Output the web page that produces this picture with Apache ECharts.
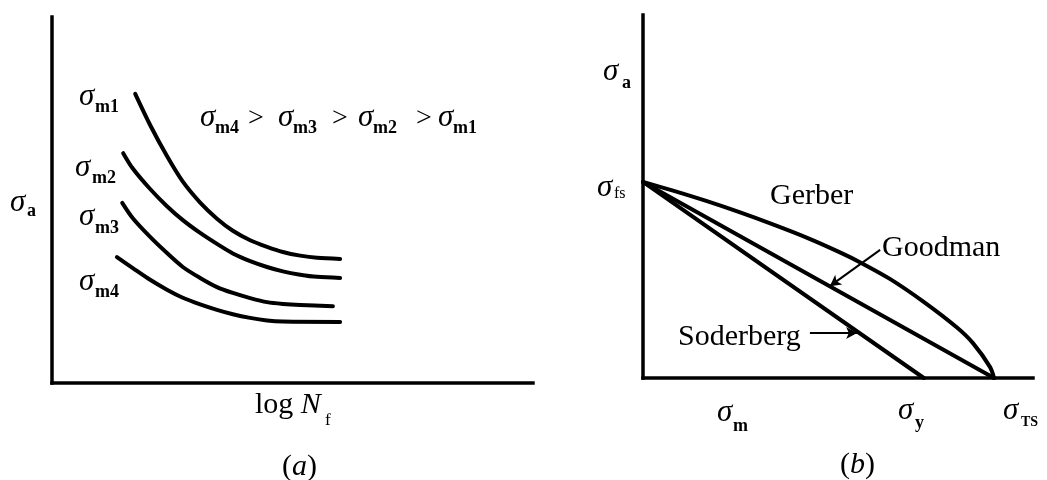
<!DOCTYPE html>
<html>
<head>
<meta charset="utf-8">
<script src="https://cdn.jsdelivr.net/npm/echarts@6/dist/echarts.min.js"></script>
<style>
  html, body { margin: 0; padding: 0; background: #fff; }
  #chart { width: 1047px; height: 480px; }
</style>
</head>
<body>
<div id="chart"></div>
<script>
// (a) S-N curves: [log Nf, sigma_a] for each mean stress level
const curveM1 = [[17.3,79.0],[20.4,70.5],[23.9,62.0],[27.2,55.0],[30.8,49.3],[34.3,44.9],[37.6,41.6],[41.2,39.0],[44.7,37.2],[48.0,35.8],[51.6,34.8],[55.1,34.2],[59.9,33.9]];
const curveM2 = [[14.8,62.8],[16.8,58.6],[20.4,53.0],[23.9,48.3],[27.2,44.5],[30.8,41.0],[34.3,38.0],[37.6,35.4],[41.2,33.3],[44.7,31.7],[48.0,30.5],[51.6,29.6],[55.1,29.0],[59.9,28.7]];
const curveM3 = [[14.6,49.2],[16.8,45.0],[20.4,39.9],[23.9,35.5],[27.2,31.7],[30.8,28.7],[34.3,26.2],[37.6,24.6],[41.2,23.2],[44.7,22.1],[48.0,21.6],[51.6,21.3],[58.4,21.0]];
const curveM4 = [[13.5,34.4],[16.8,31.4],[20.4,28.2],[23.9,25.5],[27.2,23.3],[30.8,21.5],[34.3,20.0],[37.6,18.8],[41.2,17.8],[44.7,17.1],[48.0,16.8],[59.9,16.7]];

// (b) mean-stress diagrams: [sigma_m, sigma_a]
const SIGMA_FS = 54;
const SIGMA_Y = 72;
const SIGMA_TS = 90;
const goodman = [[0, SIGMA_FS], [SIGMA_TS, 0]];
const soderberg = [[0, SIGMA_FS], [SIGMA_Y, 0]];
const gerber = [[0,54],[7.7,51.6],[16.4,48.7],[24.9,45.6],[33.3,42.3],[42.1,38.6],[50.5,34.6],[55.6,31.9],[63.3,27.3],[71.8,21.1],[80.5,13.9],[84.6,9.6],[89.0,3.0],[90,0]];
const goodmanLeader = [[60.8,35.3],[47.9,25.3]];
const soderbergLeader = [[42.8,12.4],[54.9,12.4]];

const SERIF = '"Liberation Serif", "Times New Roman", serif';
const INK = '#000';

const chart = echarts.init(document.getElementById('chart'), null, { renderer: 'canvas' });

function axis(gridIndex) {
  return {
    gridIndex, type: 'value', min: 0, max: 100,
    axisLine: { show: true, onZero: false, lineStyle: { color: INK, width: 3.5, cap: 'square' } },
    axisTick: { show: false }, axisLabel: { show: false }, splitLine: { show: false }
  };
}

function curve(data, xi, smooth) {
  return {
    type: 'line', xAxisIndex: xi, yAxisIndex: xi, data,
    showSymbol: false, smooth: smooth, silent: true,
    lineStyle: { color: INK, width: 4, cap: 'round', join: 'round' }
  };
}

function leader(points) {
  return {
    silent: true, symbol: ['none', 'arrow'], symbolSize: [9, 11],
    label: { show: false },
    lineStyle: { color: INK, width: 2, type: 'solid' },
    data: [[{ coord: points[0] }, { coord: points[1] }]]
  };
}

// text helpers
function txt(x, y, text, size, extra) {
  return {
    type: 'text', x, y, silent: true,
    style: Object.assign({
      text, fill: INK, font: size + 'px ' + SERIF,
      align: 'left', verticalAlign: 'middle'
    }, extra || {})
  };
}
function sigma(x, y) {
  return txt(x, y, 'σ', 31, { font: 'italic 31px ' + SERIF });
}
function sub(x, y, s, size, bold) {
  return txt(x, y, s, size || 18, { font: (bold === false ? '' : 'bold ') + (size || 18) + 'px ' + SERIF });
}
function italicText(x, y, text) {
  return {
    type: 'text', x, y, silent: true,
    style: {
      text, fill: INK, font: '30px ' + SERIF, verticalAlign: 'middle',
      rich: { i: { fontStyle: 'italic', fontSize: 30, fontFamily: SERIF, fill: INK } }
    }
  };
}

const graphics = [
  // (a) axis title and curve labels
  sigma(10, 203), sub(27, 211, 'a', 18),
  sigma(79, 97), sub(95, 107, 'm1'),
  sigma(75, 168), sub(92, 178, 'm2'),
  sigma(79, 217), sub(95, 228, 'm3'),
  sigma(79, 282), sub(95, 292, 'm4'),
  // ordering of mean stresses
  sigma(200, 118), sub(215, 128, 'm4'), txt(248, 119, '>', 28),
  sigma(278, 118), sub(293, 128, 'm3'), txt(332, 119, '>', 28),
  sigma(358, 118), sub(373, 128, 'm2'), txt(416, 119, '>', 28),
  sigma(438, 118), sub(453, 128, 'm1'),
  italicText(255, 405, 'log {i|N}'),
  sub(325, 421, 'f', 17, false),
  italicText(282, 467, '({i|a})'),

  // (b) axis labels
  sigma(603, 72), sub(622, 83, 'a', 18),
  sigma(597, 188), sub(614, 194, 'fs', 16, false),
  sigma(717, 413), sub(733, 426, 'm', 18),
  sigma(898, 411), sub(915, 423, 'y', 18),
  sigma(1003, 411), sub(1021, 422, 'TS', 14),
  txt(770, 196, 'Gerber', 30),
  txt(882, 248, 'Goodman', 30),
  txt(678, 337, 'Soderberg', 30),
  italicText(840, 465, '({i|b})')
];

const goodmanSeries = curve(goodman, 1, false);
goodmanSeries.markLine = leader(goodmanLeader);
const soderbergSeries = curve(soderberg, 1, false);
soderbergSeries.markLine = leader(soderbergLeader);

chart.setOption({
  animation: false,
  backgroundColor: '#fff',
  grid: [
    { left: 52, top: 17, width: 481, height: 366 },
    { left: 643, top: 15, width: 390, height: 363 }
  ],
  xAxis: [axis(0), axis(1)],
  yAxis: [axis(0), axis(1)],
  series: [
    curve(curveM1, 0, 0.3),
    curve(curveM2, 0, 0.3),
    curve(curveM3, 0, 0.3),
    curve(curveM4, 0, 0.3),
    curve(gerber, 1, 0.3),
    goodmanSeries,
    soderbergSeries
  ],
  graphic: graphics
});
</script>
</body>
</html>
